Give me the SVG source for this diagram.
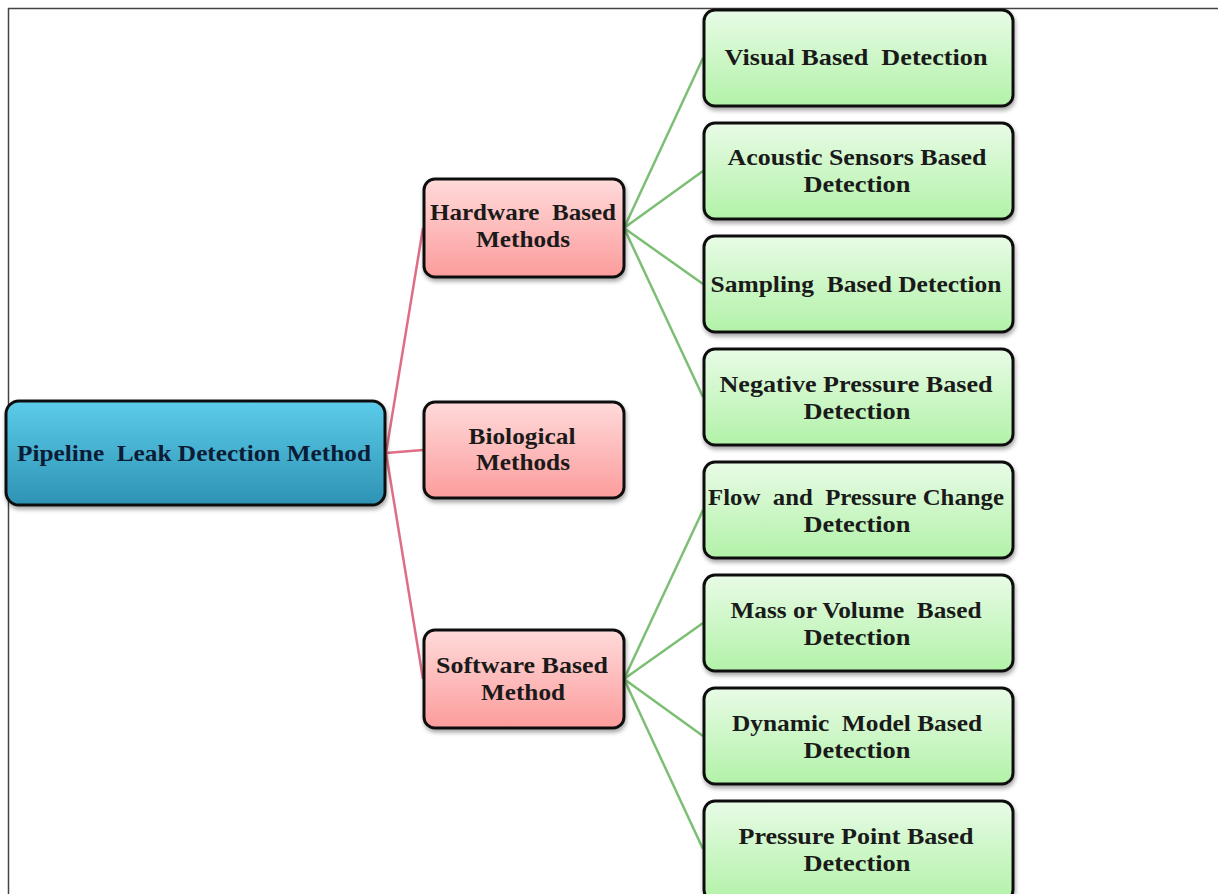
<svg xmlns="http://www.w3.org/2000/svg" width="1218" height="894" viewBox="0 0 1218 894">
<defs>
<linearGradient id="gBlue" x1="0" y1="0" x2="0" y2="1"><stop offset="0" stop-color="#5cccea"/><stop offset="1" stop-color="#2e92b4"/></linearGradient>
<linearGradient id="gPink" x1="0" y1="0" x2="0" y2="1"><stop offset="0" stop-color="#ffdada"/><stop offset="1" stop-color="#fc9c9c"/></linearGradient>
<linearGradient id="gGreen" x1="0" y1="0" x2="0" y2="1"><stop offset="0" stop-color="#e8fbe6"/><stop offset="1" stop-color="#b2f2a8"/></linearGradient>
<filter id="sh" x="-10%" y="-10%" width="120%" height="130%"><feDropShadow dx="1" dy="3" stdDeviation="2" flood-color="#000" flood-opacity="0.35"/></filter>
<style>
.box{stroke:#111;stroke-width:3;filter:url(#sh)}
.root{fill:url(#gBlue)}
.pink{fill:url(#gPink)}
.green{fill:url(#gGreen)}
text{font-family:"Liberation Serif","Times New Roman",serif;font-weight:bold;font-size:24px;fill:#1a1a1a;text-anchor:middle;white-space:pre}
.rt{fill:#0b1c36}
.lp{stroke:#e06d86;stroke-width:2.5;fill:none}
.lg{stroke:#7cbf74;stroke-width:2.5;fill:none}
</style>
</defs>
<rect width="1218" height="894" fill="#fff"/>
<path d="M8.5 894 V8.5 H1218" fill="none" stroke="#444" stroke-width="1.5"/>
<g id="connectors">
<path class="lp" d="M386 453 L423 228"/>
<path class="lp" d="M386 453 L423 450"/>
<path class="lp" d="M386 453 L423 679"/>
<path class="lg" d="M624 228 L703 58"/>
<path class="lg" d="M624 228 L703 171"/>
<path class="lg" d="M624 228 L703 284"/>
<path class="lg" d="M624 228 L703 397"/>
<path class="lg" d="M624 679 L703 510"/>
<path class="lg" d="M624 679 L703 623"/>
<path class="lg" d="M624 679 L703 736"/>
<path class="lg" d="M624 679 L703 849"/>
</g>
<g id="root"><rect class="box root" x="6" y="401" width="379" height="104" rx="13"/><text class="rt" x="194" y="461" textLength="354" lengthAdjust="spacingAndGlyphs" xml:space="preserve">Pipeline  Leak Detection Method</text></g>
<g id="hardware"><rect class="box pink" x="424" y="179" width="200" height="98" rx="11"/><text x="523" y="220" textLength="186" lengthAdjust="spacingAndGlyphs" xml:space="preserve">Hardware  Based</text><text x="523" y="247" textLength="94" lengthAdjust="spacingAndGlyphs">Methods</text></g>
<g id="biological"><rect class="box pink" x="424" y="402" width="200" height="96" rx="11"/><text x="522" y="444" textLength="107" lengthAdjust="spacingAndGlyphs">Biological</text><text x="523" y="470" textLength="94" lengthAdjust="spacingAndGlyphs">Methods</text></g>
<g id="software"><rect class="box pink" x="424" y="630" width="200" height="98" rx="11"/><text x="522" y="673" textLength="172" lengthAdjust="spacingAndGlyphs">Software Based</text><text x="523" y="700" textLength="84" lengthAdjust="spacingAndGlyphs">Method</text></g>
<g id="visual"><rect class="box green" x="704" y="10" width="309" height="96" rx="11"/><text x="856" y="65" textLength="263" lengthAdjust="spacingAndGlyphs" xml:space="preserve">Visual Based  Detection</text></g>
<g id="acoustic"><rect class="box green" x="704" y="123" width="309" height="96" rx="11"/><text x="857" y="165" textLength="259" lengthAdjust="spacingAndGlyphs">Acoustic Sensors Based</text><text x="857" y="192" textLength="107" lengthAdjust="spacingAndGlyphs">Detection</text></g>
<g id="sampling"><rect class="box green" x="704" y="236" width="309" height="96" rx="11"/><text x="856" y="292" textLength="291" lengthAdjust="spacingAndGlyphs" xml:space="preserve">Sampling  Based Detection</text></g>
<g id="negative"><rect class="box green" x="704" y="349" width="309" height="96" rx="11"/><text x="856" y="392" textLength="273" lengthAdjust="spacingAndGlyphs">Negative Pressure Based</text><text x="857" y="419" textLength="107" lengthAdjust="spacingAndGlyphs">Detection</text></g>
<g id="flow"><rect class="box green" x="704" y="462" width="309" height="96" rx="11"/><text x="856" y="505" textLength="296" lengthAdjust="spacingAndGlyphs" xml:space="preserve">Flow  and  Pressure Change</text><text x="857" y="532" textLength="107" lengthAdjust="spacingAndGlyphs">Detection</text></g>
<g id="mass"><rect class="box green" x="704" y="575" width="309" height="96" rx="11"/><text x="856" y="618" textLength="251" lengthAdjust="spacingAndGlyphs" xml:space="preserve">Mass or Volume  Based</text><text x="857" y="645" textLength="107" lengthAdjust="spacingAndGlyphs">Detection</text></g>
<g id="dynamic"><rect class="box green" x="704" y="688" width="309" height="96" rx="11"/><text x="857" y="731" textLength="250" lengthAdjust="spacingAndGlyphs" xml:space="preserve">Dynamic  Model Based</text><text x="857" y="758" textLength="107" lengthAdjust="spacingAndGlyphs">Detection</text></g>
<g id="pressurepoint"><rect class="box green" x="704" y="801" width="309" height="100" rx="11"/><text x="856" y="844" textLength="235" lengthAdjust="spacingAndGlyphs">Pressure Point Based</text><text x="857" y="871" textLength="107" lengthAdjust="spacingAndGlyphs">Detection</text></g>
</svg>
